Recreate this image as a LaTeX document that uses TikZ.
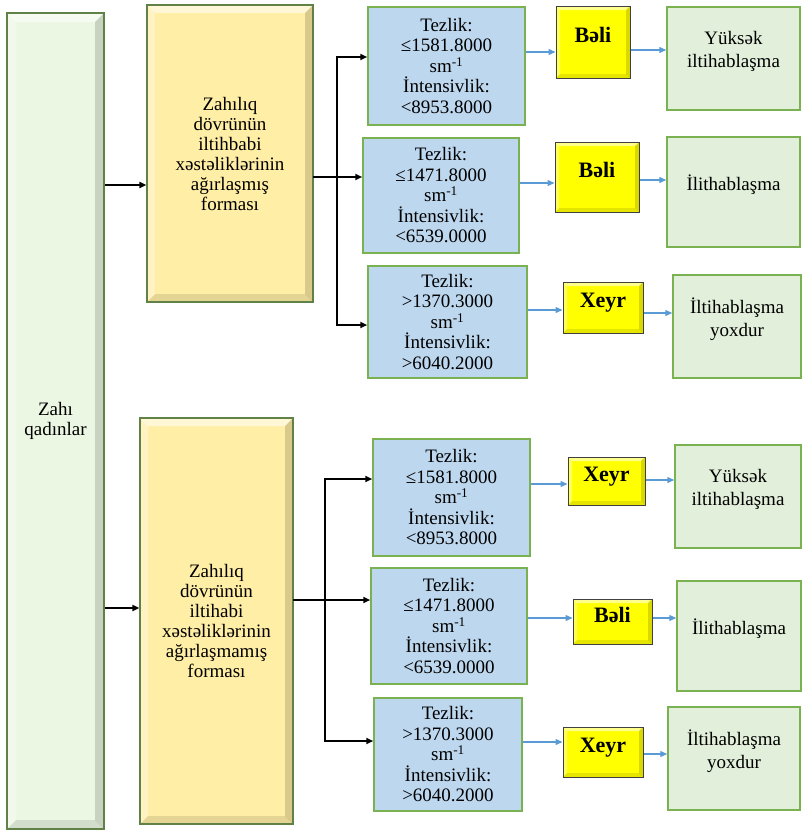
\documentclass[tikz,border=0pt]{standalone}
\usepackage{fontspec}
\setmainfont{Liberation Serif}
\usepackage{tikz}
\usetikzlibrary{arrows.meta, calc}
\definecolor{AZGreen}{RGB}{122,178,82}
\definecolor{AZSide}{RGB}{96,130,70}
\definecolor{AZPale}{RGB}{236,247,227}
\definecolor{AZCream}{RGB}{255,238,165}
\definecolor{AZYellow}{RGB}{255,255,0}
\definecolor{AZBlue}{RGB}{189,215,238}
\definecolor{AZMint}{RGB}{226,239,218}
\definecolor{AZArrow}{RGB}{91,155,213}

\tikzset{
  bevel/.style={path picture={
      \coordinate (pnw) at (path picture bounding box.north west);
      \coordinate (pne) at (path picture bounding box.north east);
      \coordinate (psw) at (path picture bounding box.south west);
      \coordinate (pse) at (path picture bounding box.south east);
      \fill[white, opacity=.55] (pnw) -- (pne) -- ([shift={(-#1,-#1)}]pne)
            -- ([shift={(#1,-#1)}]pnw) -- cycle;
      \fill[white, opacity=.35] (pnw) -- (psw) -- ([shift={(#1,#1)}]psw)
            -- ([shift={(#1,-#1)}]pnw) -- cycle;
      \fill[black, opacity=.15] (pne) -- (pse) -- ([shift={(-#1,#1)}]pse)
            -- ([shift={(-#1,-#1)}]pne) -- cycle;
      \fill[black, opacity=.10] (psw) -- (pse) -- ([shift={(-#1,#1)}]pse)
            -- ([shift={(#1,#1)}]psw) -- cycle;
  }}
}

\begin{document}
\begin{tikzpicture}[x=1pt, y=-1pt,
    box/.style={rectangle, inner sep=0pt, align=center,
                font=\fontsize{19}{20.5}\selectfont},
    root/.style={box, draw=AZSide, line width=1.5pt, fill=AZPale, bevel=9pt},
    form/.style={box, draw=AZSide, line width=1.2pt, fill=AZCream, bevel=8pt,
                 font=\fontsize{19}{20}\selectfont},
    cond/.style={box, draw=AZGreen, line width=1.5pt, fill=AZBlue},
    ans/.style={box, draw=black!75, line width=1pt, fill=AZYellow, bevel=4pt,
                text depth=14pt, font=\fontsize{22}{24}\selectfont\bfseries},
    res/.style={box, draw=AZGreen, line width=1.5pt, fill=AZMint,
                text depth=18pt, font=\fontsize{19}{23}\selectfont},
    kline/.style={line width=2pt, line cap=rect},
    karr/.style={-{Triangle[length=7pt,width=6pt]}, line width=2pt},
    barr/.style={-{Triangle[length=7pt,width=6pt]}, line width=1.3pt, AZArrow}
  ]
  \useasboundingbox (0,0) rectangle (802,830);

  % Left column
  \node[root, minimum width=97pt, minimum height=816pt] (L) at (55.5,421)
        {Zahı\\qadınlar};

  % Forms
  \node[form, minimum width=166pt, minimum height=297pt] (T) at (230,153.5)
        {Zahılıq\\dövrünün\\iltihbabi\\xəstəliklərinin\\ağırlaşmış\\forması};
  \node[form, minimum width=153pt, minimum height=406pt] (U) at (216.5,621)
        {Zahılıq\\dövrünün\\iltihabi\\xəstəliklərinin\\ağırlaşmamış\\forması};

  % Conditions
  \node[cond, minimum width=157pt, minimum height=118pt] (B1) at (446.5,66)
        {Tezlik:\\≤1581.8000\\sm\textsuperscript{-1}\\İntensivlik:\\<8953.8000};
  \node[cond, minimum width=156pt, minimum height=115pt] (B2) at (441,195.5)
        {Tezlik:\\≤1471.8000\\sm\textsuperscript{-1}\\İntensivlik:\\<6539.0000};
  \node[cond, minimum width=159pt, minimum height=112pt] (B3) at (447.5,322)
        {Tezlik:\\>1370.3000\\sm\textsuperscript{-1}\\İntensivlik:\\>6040.2000};
  \node[cond, minimum width=157pt, minimum height=117pt] (B4) at (451.5,497.5)
        {Tezlik:\\≤1581.8000\\sm\textsuperscript{-1}\\İntensivlik:\\<8953.8000};
  \node[cond, minimum width=156pt, minimum height=116pt] (B5) at (449,626)
        {Tezlik:\\≤1471.8000\\sm\textsuperscript{-1}\\İntensivlik:\\<6539.0000};
  \node[cond, minimum width=148pt, minimum height=113pt] (B6) at (448,754.5)
        {Tezlik:\\>1370.3000\\sm\textsuperscript{-1}\\İntensivlik:\\>6040.2000};

  % Answers
  \node[ans, minimum width=74pt, minimum height=72pt] (Y1) at (593,42) {Bəli};
  \node[ans, minimum width=84pt, minimum height=70pt] (Y2) at (597,177) {Bəli};
  \node[ans, minimum width=80pt, minimum height=51pt] (Y3) at (603,307.5) {Xeyr};
  \node[ans, minimum width=77pt, minimum height=48pt] (Y4) at (606.5,481) {Xeyr};
  \node[ans, minimum width=79pt, minimum height=45pt] (Y5) at (612.5,621.5) {Bəli};
  \node[ans, minimum width=80pt, minimum height=50pt] (Y6) at (603,752) {Xeyr};

  % Results
  \node[res, minimum width=133pt, minimum height=103pt] (G1) at (733.5,58.5)
        {Yüksək\\iltihablaşma};
  \node[res, minimum width=133pt, minimum height=110pt] (G2) at (733.5,192)
        {İlithablaşma};
  \node[res, minimum width=128pt, minimum height=103pt] (G3) at (737,326.5)
        {İltihablaşma\\yoxdur};
  \node[res, minimum width=126pt, minimum height=103pt] (G4) at (738,496.5)
        {Yüksək\\iltihablaşma};
  \node[res, minimum width=124pt, minimum height=110pt] (G5) at (739,636)
        {İlithablaşma};
  \node[res, minimum width=132pt, minimum height=103pt] (G6) at (734,758.5)
        {İltihablaşma\\yoxdur};

  % Bus points
  \coordinate (t1) at (337,57);
  \coordinate (t2) at (337,177);
  \coordinate (t3) at (337,325);
  \coordinate (u1) at (325,479);
  \coordinate (u2) at (325,600);
  \coordinate (u3) at (325,741);

  % Black arrows
  \draw[karr] (L.east |- 0,185) -- (T.west |- 0,185);
  \draw[karr] (L.east |- 0,608) -- (U.west |- 0,608);
  \draw[kline] (T.east |- t2) -- (t2);
  \draw[kline] (t1) -- (t3);
  \draw[karr] (t1) -- (t1 -| B1.west);
  \draw[karr] (t2) -- (t2 -| B2.west);
  \draw[karr] (t3) -- (t3 -| B3.west);
  \draw[kline] (U.east |- u2) -- (u2);
  \draw[kline] (u1) -- (u3);
  \draw[karr] (u1) -- (u1 -| B4.west);
  \draw[karr] (u2) -- (u2 -| B5.west);
  \draw[karr] (u3) -- (u3 -| B6.west);

  % Blue arrows
  \draw[barr] (B1.east |- 0,52) -- (Y1.west |- 0,52);
  \draw[barr] (Y1.east |- 0,50) -- (G1.west |- 0,50);
  \draw[barr] (B2.east |- 0,183) -- (Y2.west |- 0,183);
  \draw[barr] (Y2.east |- 0,180) -- (G2.west |- 0,180);
  \draw[barr] (B3.east |- 0,310) -- (Y3.west |- 0,310);
  \draw[barr] (Y3.east |- 0,313) -- (G3.west |- 0,313);
  \draw[barr] (B4.east |- 0,484) -- (Y4.west |- 0,484);
  \draw[barr] (Y4.east |- 0,480) -- (G4.west |- 0,480);
  \draw[barr] (B5.east |- 0,618) -- (Y5.west |- 0,618);
  \draw[barr] (Y5.east |- 0,618) -- (G5.west |- 0,618);
  \draw[barr] (B6.east |- 0,742) -- (Y6.west |- 0,742);
  \draw[barr] (Y6.east |- 0,754) -- (G6.west |- 0,754);
\end{tikzpicture}
\end{document}
